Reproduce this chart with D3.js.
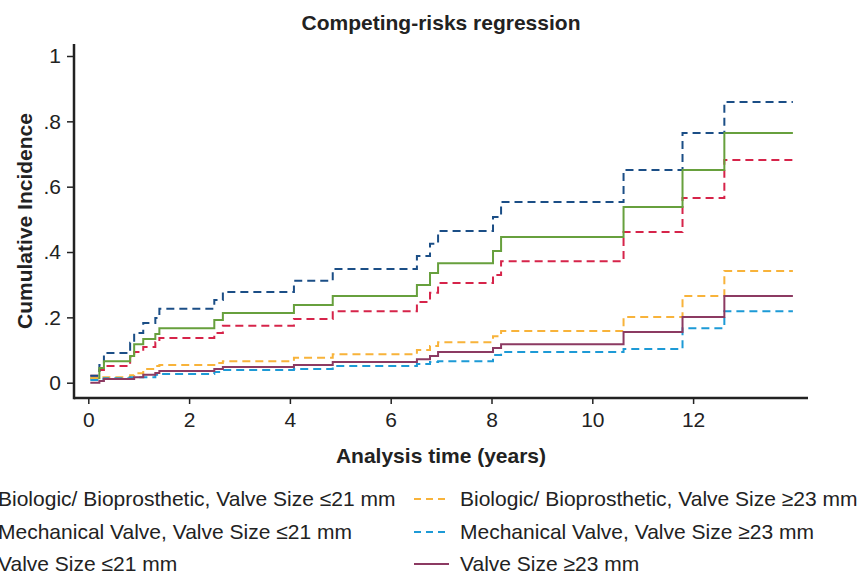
<!DOCTYPE html>
<html>
<head>
<meta charset="utf-8">
<script src="https://cdn.jsdelivr.net/npm/d3@7"></script>
<style>
  body { margin: 0; background: #fff; }
  svg { display: block; font-family: "Liberation Sans", Arial, Helvetica, sans-serif; }
  .axis path, .axis line { stroke: #222; }
</style>
</head>
<body>
<div id="chartContainer"></div>
<script>
// step times (years) shared by all curves, curves stop at endTime
var times = [0.04, 0.22, 0.31, 0.83, 0.91, 1.09, 1.33, 1.41, 2.5, 2.67, 4.08, 4.85, 6.52, 6.78, 6.94, 8.03, 8.19, 10.62, 11.79, 12.62];
var endTime = 13.98;

var bioSmall  = [0.021, 0.039, 0.051, 0.079, 0.094, 0.109, 0.124, 0.137, 0.152, 0.174, 0.195, 0.219, 0.247, 0.275, 0.305, 0.330, 0.372, 0.461, 0.565, 0.682];
var mechSmall = [0.021, 0.054, 0.091, 0.122, 0.152, 0.183, 0.198, 0.226, 0.253, 0.278, 0.312, 0.348, 0.388, 0.425, 0.464, 0.507, 0.553, 0.651, 0.764, 0.859];
var sizeSmall = [0.014, 0.045, 0.066, 0.082, 0.118, 0.134, 0.149, 0.167, 0.192, 0.213, 0.238, 0.265, 0.299, 0.336, 0.366, 0.403, 0.446, 0.538, 0.651, 0.764];
var bioLarge  = [0.014, 0.017, 0.017, 0.023, 0.029, 0.042, 0.051, 0.054, 0.060, 0.066, 0.076, 0.087, 0.100, 0.112, 0.124, 0.142, 0.158, 0.201, 0.265, 0.342];
var mechLarge = [0.008, 0.011, 0.014, 0.017, 0.017, 0.017, 0.024, 0.027, 0.033, 0.039, 0.042, 0.051, 0.057, 0.063, 0.066, 0.085, 0.094, 0.103, 0.167, 0.219];
var sizeLarge = [0.000, 0.005, 0.011, 0.011, 0.017, 0.024, 0.030, 0.036, 0.042, 0.048, 0.054, 0.063, 0.072, 0.082, 0.094, 0.106, 0.118, 0.155, 0.201, 0.265];

var xTicks = [0, 2, 4, 6, 8, 10, 12];
var yTicks = [0, 0.2, 0.4, 0.6, 0.8, 1];
var yTickLabels = ["0", ".2", ".4", ".6", ".8", "1"];

var series = [
  {name: "Biologic/ Bioprosthetic, Valve Size \u226421 mm", values: bioSmall,  color: "#d6244a", dash: "8,5"},
  {name: "Mechanical Valve, Valve Size \u226421 mm",        values: mechSmall, color: "#1b4e86", dash: "8,5"},
  {name: "Valve Size \u226421 mm",                          values: sizeSmall, color: "#67a03d", dash: null},
  {name: "Biologic/ Bioprosthetic, Valve Size \u226523 mm", values: bioLarge,  color: "#f8b33a", dash: "8,5"},
  {name: "Mechanical Valve, Valve Size \u226523 mm",        values: mechLarge, color: "#1d9ad6", dash: "8,5"},
  {name: "Valve Size \u226523 mm",                          values: sizeLarge, color: "#8c3a62", dash: null}
];

var width = 867, height = 576;

var svg = d3.select("#chartContainer")
    .append("svg")
    .attr("width", width)
    .attr("height", height);

// plot region: axes sit a bit outside the data range (stata style)
var x = d3.scaleLinear().domain([0, 14]).range([88.3, 793.9]);
var y = d3.scaleLinear().domain([0, 1]).range([382.7, 56]);
var axisLeftX = 74, axisBottomY = 398;

/***** Title *****/
svg.append("text")
    .attr("x", 441).attr("y", 30)
    .attr("text-anchor", "middle")
    .style("font-size", "21px").style("font-weight", "bold").style("fill", "#222")
    .text("Competing-risks regression");

/***** Axes *****/
var xAxisGroup = svg.append("g").attr("class", "axis")
    .attr("transform", "translate(0," + axisBottomY + ")");
xAxisGroup.append("line")
    .attr("x1", axisLeftX).attr("x2", 808)
    .attr("stroke-width", 2.5);
var xAxis = d3.axisBottom(x).tickValues(xTicks).tickSize(6).tickSizeOuter(0).tickPadding(8);
var xg = xAxisGroup.append("g").call(xAxis);
xg.select(".domain").remove();
xg.selectAll(".tick line").attr("stroke-width", 1.5).attr("stroke", "#222");
xg.selectAll(".tick text")
    .style("font-size", "21px").style("fill", "#222")
    .style("font-family", "Liberation Sans, Arial, sans-serif");

var yAxisGroup = svg.append("g").attr("class", "axis")
    .attr("transform", "translate(" + axisLeftX + ",0)");
yAxisGroup.append("line")
    .attr("y1", 44).attr("y2", axisBottomY + 1.2)
    .attr("stroke-width", 2.5);
var yAxis = d3.axisLeft(y).tickValues(yTicks).tickSize(7).tickSizeOuter(0).tickPadding(6)
    .tickFormat(function(d, i) { return yTickLabels[i]; });
var yg = yAxisGroup.append("g").call(yAxis);
yg.select(".domain").remove();
yg.selectAll(".tick line").attr("stroke-width", 1.5).attr("stroke", "#222");
yg.selectAll(".tick text")
    .style("font-size", "21px").style("fill", "#222")
    .style("font-family", "Liberation Sans, Arial, sans-serif");

svg.append("text")
    .attr("x", 441).attr("y", 463)
    .attr("text-anchor", "middle")
    .style("font-size", "21px").style("font-weight", "bold").style("fill", "#222")
    .text("Analysis time (years)");

svg.append("text")
    .attr("transform", "translate(32,221) rotate(-90)")
    .attr("text-anchor", "middle")
    .style("font-size", "21px").style("font-weight", "bold").style("fill", "#222")
    .text("Cumulative Incidence");

/***** Step curves *****/
var line = d3.line()
    .x(function(d) { return x(d[0]); })
    .y(function(d) { return y(d[1]); })
    .curve(d3.curveStepAfter);

var lines = svg.append("g").attr("id", "lines");
series.forEach(function(s) {
  var pts = times.map(function(t, i) { return [t, s.values[i]]; });
  pts.push([endTime, s.values[s.values.length - 1]]);
  lines.append("path")
      .datum(pts)
      .attr("d", line)
      .attr("fill", "none")
      .attr("stroke", s.color)
      .attr("stroke-width", 2)
      .attr("stroke-dasharray", s.dash);
});

/***** Legend (left column runs off the left edge, as in the source) *****/
var legend = svg.append("g");
var rowY = [506, 539, 571];
var colX = [-48, 414];
series.forEach(function(s, i) {
  var col = i < 3 ? 0 : 1, row = i % 3;
  var g = legend.append("g")
      .attr("transform", "translate(" + colX[col] + "," + rowY[row] + ")");
  g.append("line")
      .attr("x1", 0).attr("x2", 35)
      .attr("y1", -7).attr("y2", -7)
      .attr("stroke", s.color).attr("stroke-width", 2)
      .attr("stroke-dasharray", s.dash ? "7,5" : null);
  g.append("text")
      .attr("x", 46).attr("y", 0)
      .style("font-size", "21px").style("fill", "#222")
      .text(s.name);
});
</script>
</body>
</html>
